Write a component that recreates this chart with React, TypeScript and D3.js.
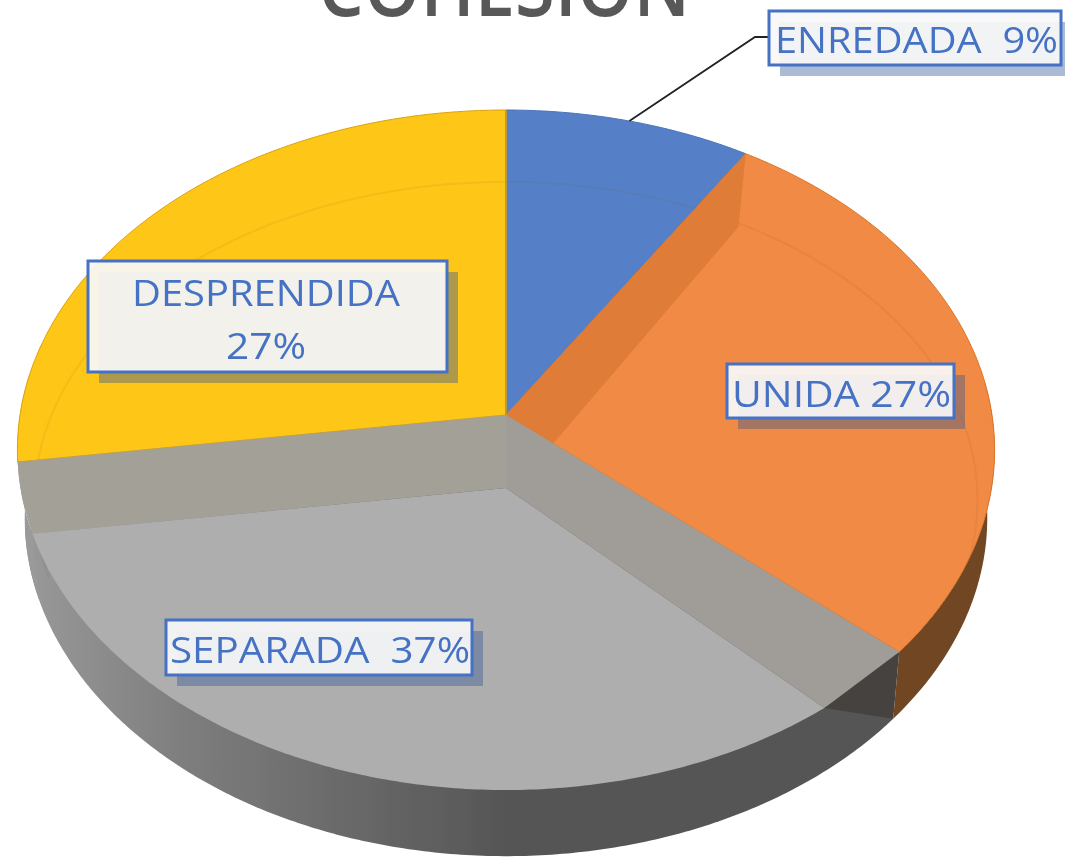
import React from "react";
import * as d3 from "d3";

const sliceNames = ["ENREDADA", "UNIDA", "SEPARADA", "DESPRENDIDA"];
const sliceValues = [9.0, 27.4, 36.4, 27.2]; // sweep as drawn
const slicePercents = ["9%", "27%", "37%", "27%"]; // as printed on the labels
const sliceColours = ["#5580c8", "#f08a44", "#aeaeae", "#fec619"];
const sliceEdges = ["#4a72bb", "#dc7424", "#8f8f8f", "#d9a20b"];
const titleText = "COHESIÓN";

const WIDTH = 1065;
const HEIGHT = 857;
const floorSlice = 2; // the grey slice is drawn sunk, with walls round it

// label layout, same order as sliceNames
const labelBoxes = [
  { x: 769, y: 11, w: 292, h: 54, sep: "  ", lines: 1 },
  { x: 727, y: 364, w: 227, h: 54, sep: " ", lines: 1 },
  { x: 166, y: 620, w: 306, h: 55, sep: "  ", lines: 1 },
  { x: 88, y: 261, w: 359, h: 111, sep: " ", lines: 2 }
];
const labelTexts = [
  [{ x: 775, y: 53, w: 283 }],
  [{ x: 732, y: 407, w: 219 }],
  [{ x: 170, y: 663, w: 300 }],
  [
    { x: 132, y: 306, w: 268 },
    { x: 226, y: 359, w: 80 }
  ]
];

// perspective disc: unit circle tipped back, apex sits above the ellipse centre
const cx = 506;
const cy = 415;
const persp = -0.103;
const rx = 486;
const ry = 336.4;
const rimDrop = 68;
const wallDrop = 73;
const wallInset = (12 * Math.PI) / 180;
const deg = Math.PI / 180;

type Pt = [number, number];
const project = (t: number, sx = 1, sy = 1, dy = 0): Pt => {
  const x = Math.sin(t);
  const y = -Math.cos(t);
  const d = 1 + persp * y;
  return [cx + (sx * rx * x) / d, cy + dy + (sy * ry * y) / d];
};

const arcPoints = (a0: number, a1: number, sx = 1, sy = 1, dy = 0): Pt[] => {
  const n = Math.max(2, Math.ceil(Math.abs(a1 - a0) / 0.01));
  return d3.range(n + 1).map(i => project(a0 + ((a1 - a0) * i) / n, sx, sy, dy));
};

const line = d3.line<Pt>();
const closed = (pts: Pt[]) => line(pts) + "Z";

const slices = d3
  .pie<number>()
  .sort(null)
  .value(d => d)(sliceValues);

const labelFont = "'Open Sans', sans-serif";

export default function App() {
  const apex: Pt = [cx, cy];
  const floorApex: Pt = [cx, cy + wallDrop];
  const grey = slices[floorSlice];
  const orange = slices[1];
  const blue = slices[0];

  const greyStart = project(grey.startAngle);
  const greyEnd = project(grey.endAngle);

  // bevel along the orange slice's first edge
  const bandTop = project(orange.startAngle);
  const bandInner: Pt = [bandTop[0] - 7, bandTop[1] + wallDrop];
  const bandFoot = d3.interpolate(apex, greyStart)(0.12) as unknown as Pt;

  const leaderAngle = (blue.startAngle + blue.endAngle) / 2;
  const leaderFrom = project(leaderAngle);

  return (
    <svg
      width={WIDTH}
      height={HEIGHT}
      style={{ position: "absolute", left: 0, top: 0, display: "block", overflow: "hidden" }}
    >
      <defs>
        <linearGradient id="rimGrey" gradientUnits="userSpaceOnUse" x1={20} x2={520} y1={0} y2={0}>
          <stop offset="0" stopColor="#9a9a9a" />
          <stop offset="0.35" stopColor="#7c7c7c" />
          <stop offset="1" stopColor="#545454" />
        </linearGradient>
        <filter id="soft" x="-5%" y="-5%" width="110%" height="110%">
          <feGaussianBlur stdDeviation="0.7" />
        </filter>
      </defs>

      <g filter="url(#soft)">
        <text
          x={504}
          y={16}
          textAnchor="middle"
          fontFamily={labelFont}
          fontSize={84}
          fontWeight={600}
          fill="#595959"
          textLength={372}
          lengthAdjust="spacingAndGlyphs"
        >
          {titleText}
        </text>

        {/* rim under the disc */}
        <path
          d={closed([
            ...arcPoints(grey.startAngle, grey.endAngle, 0.985, 0.995, rimDrop),
            [cx, cy + rimDrop]
          ])}
          fill="url(#rimGrey)"
        />
        <path
          d={closed([
            ...arcPoints(grey.endAngle - wallInset, grey.endAngle + 0.3),
            ...arcPoints(grey.endAngle + 0.3, grey.endAngle - wallInset, 0.985, 0.995, rimDrop)
          ])}
          fill="#9a9a9a"
        />
        <path
          d={closed([
            ...arcPoints(orange.startAngle + 0.9, orange.endAngle),
            ...arcPoints(orange.endAngle, orange.startAngle + 0.9, 0.985, 0.995, rimDrop)
          ])}
          fill="#704624"
        />

        {/* top faces */}
        {slices.map((s, i) =>
          i === floorSlice ? null : (
            <path
              key={sliceNames[i]}
              d={closed([apex, ...arcPoints(s.startAngle, s.endAngle)])}
              fill={sliceColours[i]}
              stroke={sliceEdges[i]}
              strokeWidth={1}
              strokeLinejoin="round"
            />
          )
        )}

        {/* faint inner ring, only where it crosses the top faces */}
        <path
          d={line(arcPoints(-110 * deg, 110 * deg, 0.965, 0.935, 52)) ?? ""}
          fill="none"
          stroke="#7a4a10"
          strokeOpacity={0.08}
          strokeWidth={2}
        />

        <path d={closed([apex, bandTop, bandInner, bandFoot])} fill="#de7b39" />
        <line x1={cx} y1={cy} x2={cx} y2={project(0)[1]} stroke="#b59a3a" strokeWidth={2} />

        {/* sunk grey slice: walls, then floor */}
        <path
          d={closed([
            apex,
            ...arcPoints(grey.startAngle, grey.startAngle + wallInset),
            floorApex
          ])}
          fill="#a09c97"
        />
        <path
          d={closed([
            apex,
            floorApex,
            ...arcPoints(grey.endAngle - wallInset, grey.endAngle)
          ])}
          fill="#a3a097"
        />
        <path
          d={closed([
            floorApex,
            ...arcPoints(grey.startAngle + wallInset, grey.endAngle - wallInset)
          ])}
          fill={sliceColours[floorSlice]}
        />
        <path
          d={closed([
            greyStart,
            project(grey.startAngle + wallInset),
            project(grey.startAngle, 0.985, 0.995, rimDrop)
          ])}
          fill="#45423f"
        />
        <line
          x1={cx}
          y1={cy}
          x2={greyEnd[0]}
          y2={greyEnd[1]}
          stroke="#b5a060"
          strokeWidth={1}
          strokeOpacity={0.5}
        />

        {/* leader for the small slice */}
        <polyline
          points={[leaderFrom, [755, 37], [770, 37]].map(p => p.join(",")).join(" ")}
          fill="none"
          stroke="#222"
          strokeWidth={1.8}
        />

        {/* labels */}
        {labelBoxes.map((b, i) => (
          <g key={sliceNames[i]}>
            <rect x={b.x + 11} y={b.y + 11} width={b.w} height={b.h} fill="#325596" fillOpacity={0.4} />
            <rect
              x={b.x}
              y={b.y}
              width={b.w}
              height={b.h}
              fill="#f8f8f8"
              fillOpacity={0.93}
              stroke="#4472c4"
              strokeWidth={3}
            />
            {labelTexts[i].map((t, j) => {
              const pct = slicePercents[i];
              const str = b.lines === 2 ? (j === 0 ? sliceNames[i] : pct) : sliceNames[i] + b.sep + pct;
              return (
                <text
                  key={j}
                  x={t.x}
                  y={t.y}
                  fontFamily={labelFont}
                  fontSize={37}
                  fill="#4472c4"
                  textLength={t.w}
                  lengthAdjust="spacingAndGlyphs"
                  style={{ whiteSpace: "pre" }}
                >
                  {str}
                </text>
              );
            })}
          </g>
        ))}
      </g>
    </svg>
  );
}
